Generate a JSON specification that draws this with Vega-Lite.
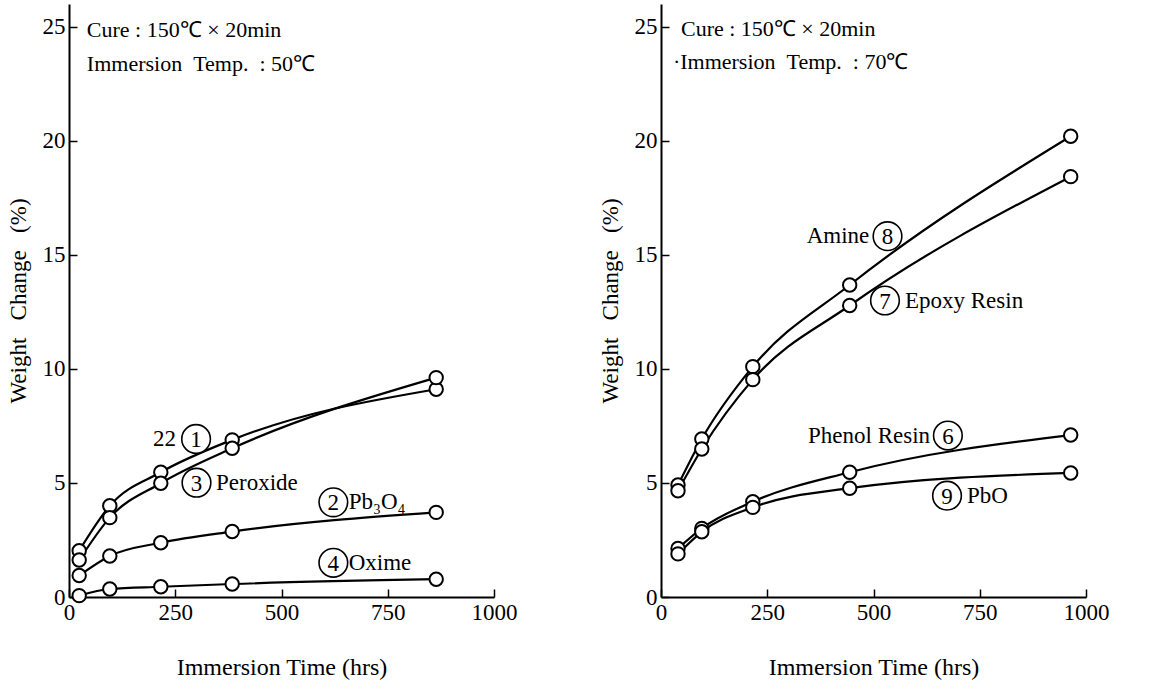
{
  "$schema": "https://vega.github.io/schema/vega-lite/v6.json",
  "background": "white",
  "padding": {"left": 7, "top": 4, "right": 5, "bottom": 5},
  "bounds": "flush",
  "spacing": 167,
  "datasets": {
    "left": [
      {"s": "1", "t": 24, "w": 2.03}, {"s": "1", "t": 96, "w": 4.0}, {"s": "1", "t": 216, "w": 5.47}, {"s": "1", "t": 384, "w": 6.89}, {"s": "1", "t": 864, "w": 9.11},
      {"s": "3", "t": 24, "w": 1.62}, {"s": "3", "t": 96, "w": 3.48}, {"s": "3", "t": 216, "w": 4.99}, {"s": "3", "t": 384, "w": 6.52}, {"s": "3", "t": 864, "w": 9.62},
      {"s": "2", "t": 24, "w": 0.94}, {"s": "2", "t": 96, "w": 1.8}, {"s": "2", "t": 216, "w": 2.38}, {"s": "2", "t": 384, "w": 2.87}, {"s": "2", "t": 864, "w": 3.71},
      {"s": "4", "t": 24, "w": 0.06}, {"s": "4", "t": 96, "w": 0.35}, {"s": "4", "t": 216, "w": 0.45}, {"s": "4", "t": 384, "w": 0.57}, {"s": "4", "t": 864, "w": 0.78}
    ],
    "right": [
      {"s": "8", "t": 40, "w": 4.91}, {"s": "8", "t": 96, "w": 6.93}, {"s": "8", "t": 216, "w": 10.1}, {"s": "8", "t": 444, "w": 13.68}, {"s": "8", "t": 964, "w": 20.2},
      {"s": "7", "t": 40, "w": 4.66}, {"s": "7", "t": 96, "w": 6.49}, {"s": "7", "t": 216, "w": 9.53}, {"s": "7", "t": 444, "w": 12.78}, {"s": "7", "t": 964, "w": 18.43},
      {"s": "6", "t": 40, "w": 2.13}, {"s": "6", "t": 96, "w": 3.01}, {"s": "6", "t": 216, "w": 4.18}, {"s": "6", "t": 444, "w": 5.47}, {"s": "6", "t": 964, "w": 7.1},
      {"s": "9", "t": 40, "w": 1.89}, {"s": "9", "t": 96, "w": 2.86}, {"s": "9", "t": 216, "w": 3.93}, {"s": "9", "t": 444, "w": 4.77}, {"s": "9", "t": 964, "w": 5.44}
    ],
    "leftCircles": [
      {"x": 299, "y": 6.93, "n": "1"},
      {"x": 300, "y": 5.01, "n": "3"},
      {"x": 622, "y": 4.15, "n": "2"},
      {"x": 622, "y": 1.5, "n": "4"}
    ],
    "rightCircles": [
      {"x": 533, "y": 15.82, "n": "8"},
      {"x": 527, "y": 13.0, "n": "7"},
      {"x": 675, "y": 7.08, "n": "6"},
      {"x": 673, "y": 4.44, "n": "9"}
    ],
    "leftLabelsL": [
      {"x": 346, "y": 5.01, "text": "Peroxide"},
      {"x": 658, "y": 4.15, "text": "Pb₃O₄"},
      {"x": 658, "y": 1.5, "text": "Oxime"}
    ],
    "leftLabelsR": [
      {"x": 252, "y": 6.93, "text": "22"}
    ],
    "rightLabelsL": [
      {"x": 574, "y": 13.0, "text": "Epoxy Resin"},
      {"x": 720, "y": 4.44, "text": "PbO"}
    ],
    "rightLabelsR": [
      {"x": 490, "y": 15.82, "text": "Amine"},
      {"x": 633, "y": 7.08, "text": "Phenol Resin"}
    ],
    "leftHeader": [
      {"x": 42, "y": 24.87, "text": "Cure : 150℃ × 20min"},
      {"x": 42, "y": 23.38, "text": "Immersion\u00a0\u00a0Temp.\u00a0\u00a0: 50℃"}
    ],
    "rightHeader": [
      {"x": 47, "y": 24.9, "text": "Cure : 150℃ × 20min"},
      {"x": 28, "y": 23.46, "text": "·Immersion\u00a0\u00a0Temp.\u00a0\u00a0: 70℃"}
    ]
  },
  "hconcat": [
    {
      "width": 425,
      "height": 593,
      "encoding": {
        "x": {"type": "quantitative", "scale": {"domain": [0, 1000]}, "axis": {"values": [0, 250, 500, 750, 1000], "format": "d", "title": "Immersion Time (hrs)"}},
        "y": {"type": "quantitative", "scale": {"domain": [0, 26]}, "axis": {"values": [0, 5, 10, 15, 20, 25], "title": "Weight\u00a0\u00a0\u00a0Change\u00a0\u00a0\u00a0(%)"}}
      },
      "layer": [
        {"data": {"name": "left"}, "mark": {"type": "line", "interpolate": "monotone", "color": "black", "strokeWidth": 2.2},
         "encoding": {"x": {"field": "t", "type": "quantitative"}, "y": {"field": "w", "type": "quantitative"}, "detail": {"field": "s"}}},
        {"data": {"name": "left"}, "mark": {"type": "point", "shape": "circle", "filled": false, "fill": "white", "fillOpacity": 1, "stroke": "black", "strokeWidth": 2, "size": 180, "opacity": 1},
         "encoding": {"x": {"field": "t", "type": "quantitative"}, "y": {"field": "w", "type": "quantitative"}}},
        {"data": {"name": "leftCircles"}, "mark": {"type": "point", "shape": "circle", "filled": false, "fill": "white", "fillOpacity": 1, "stroke": "black", "strokeWidth": 1.6, "size": 820, "opacity": 1},
         "encoding": {"x": {"field": "x", "type": "quantitative"}, "y": {"field": "y", "type": "quantitative"}}},
        {"data": {"name": "leftCircles"}, "mark": {"type": "text", "font": "Liberation Serif", "fontSize": 23, "align": "center", "baseline": "middle", "dy": 1, "color": "black"},
         "encoding": {"x": {"field": "x", "type": "quantitative"}, "y": {"field": "y", "type": "quantitative"}, "text": {"field": "n"}}},
        {"data": {"name": "leftLabelsL"}, "mark": {"type": "text", "font": "Liberation Serif", "fontSize": 23, "align": "left", "baseline": "middle", "color": "black"},
         "encoding": {"x": {"field": "x", "type": "quantitative"}, "y": {"field": "y", "type": "quantitative"}, "text": {"field": "text"}}},
        {"data": {"name": "leftLabelsR"}, "mark": {"type": "text", "font": "Liberation Serif", "fontSize": 23, "align": "right", "baseline": "middle", "color": "black"},
         "encoding": {"x": {"field": "x", "type": "quantitative"}, "y": {"field": "y", "type": "quantitative"}, "text": {"field": "text"}}},
        {"data": {"name": "leftHeader"}, "mark": {"type": "text", "font": "Liberation Serif", "fontSize": 22, "align": "left", "baseline": "middle", "color": "black"},
         "encoding": {"x": {"field": "x", "type": "quantitative"}, "y": {"field": "y", "type": "quantitative"}, "text": {"field": "text"}}}
      ]
    },
    {
      "width": 425,
      "height": 593,
      "encoding": {
        "x": {"type": "quantitative", "scale": {"domain": [0, 1000]}, "axis": {"values": [0, 250, 500, 750, 1000], "format": "d", "title": "Immersion Time (hrs)"}},
        "y": {"type": "quantitative", "scale": {"domain": [0, 26]}, "axis": {"values": [0, 5, 10, 15, 20, 25], "title": "Weight\u00a0\u00a0\u00a0Change\u00a0\u00a0\u00a0(%)"}}
      },
      "layer": [
        {"data": {"name": "right"}, "mark": {"type": "line", "interpolate": "monotone", "color": "black", "strokeWidth": 2.2},
         "encoding": {"x": {"field": "t", "type": "quantitative"}, "y": {"field": "w", "type": "quantitative"}, "detail": {"field": "s"}}},
        {"data": {"name": "right"}, "mark": {"type": "point", "shape": "circle", "filled": false, "fill": "white", "fillOpacity": 1, "stroke": "black", "strokeWidth": 2, "size": 180, "opacity": 1},
         "encoding": {"x": {"field": "t", "type": "quantitative"}, "y": {"field": "w", "type": "quantitative"}}},
        {"data": {"name": "rightCircles"}, "mark": {"type": "point", "shape": "circle", "filled": false, "fill": "white", "fillOpacity": 1, "stroke": "black", "strokeWidth": 1.6, "size": 820, "opacity": 1},
         "encoding": {"x": {"field": "x", "type": "quantitative"}, "y": {"field": "y", "type": "quantitative"}}},
        {"data": {"name": "rightCircles"}, "mark": {"type": "text", "font": "Liberation Serif", "fontSize": 23, "align": "center", "baseline": "middle", "dy": 1, "color": "black"},
         "encoding": {"x": {"field": "x", "type": "quantitative"}, "y": {"field": "y", "type": "quantitative"}, "text": {"field": "n"}}},
        {"data": {"name": "rightLabelsL"}, "mark": {"type": "text", "font": "Liberation Serif", "fontSize": 23, "align": "left", "baseline": "middle", "color": "black"},
         "encoding": {"x": {"field": "x", "type": "quantitative"}, "y": {"field": "y", "type": "quantitative"}, "text": {"field": "text"}}},
        {"data": {"name": "rightLabelsR"}, "mark": {"type": "text", "font": "Liberation Serif", "fontSize": 23, "align": "right", "baseline": "middle", "color": "black"},
         "encoding": {"x": {"field": "x", "type": "quantitative"}, "y": {"field": "y", "type": "quantitative"}, "text": {"field": "text"}}},
        {"data": {"name": "rightHeader"}, "mark": {"type": "text", "font": "Liberation Serif", "fontSize": 22, "align": "left", "baseline": "middle", "color": "black"},
         "encoding": {"x": {"field": "x", "type": "quantitative"}, "y": {"field": "y", "type": "quantitative"}, "text": {"field": "text"}}}
      ]
    }
  ],
  "config": {
    "view": {"stroke": null},
    "axis": {
      "grid": false,
      "domainColor": "black",
      "domainWidth": 2,
      "tickColor": "black",
      "tickWidth": 1.5,
      "tickSize": -8,
      "labelPadding": 12,
      "labelFont": "Liberation Serif",
      "labelFontSize": 23,
      "labelColor": "black",
      "labelFlush": false,
      "labelOverlap": false,
      "titleFont": "Liberation Serif",
      "titleFontSize": 24,
      "titleFontWeight": "normal",
      "titleColor": "black"
    },
    "axisX": {"titlePadding": 31},
    "axisY": {"titlePadding": 12, "titleFontSize": 23}
  }
}
